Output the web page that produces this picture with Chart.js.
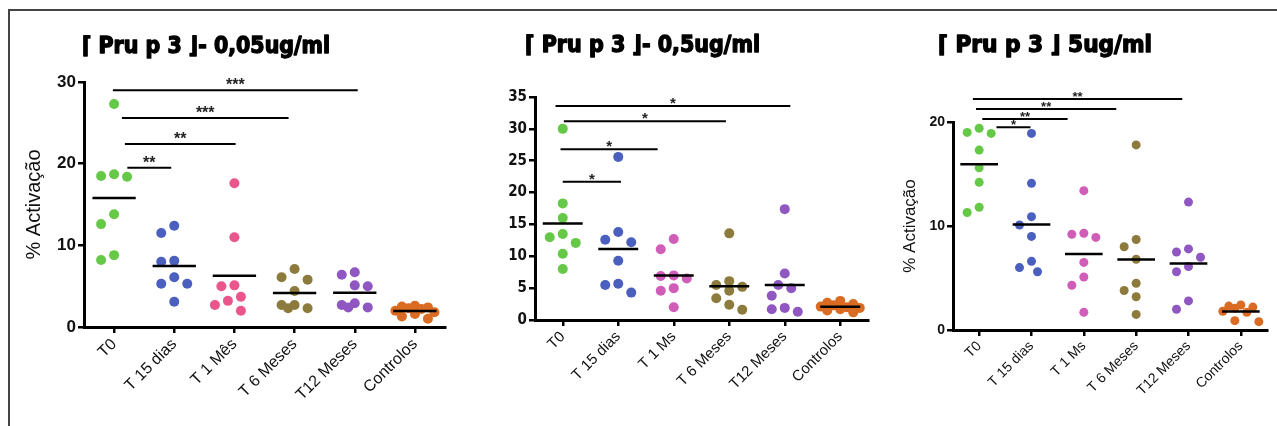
<!DOCTYPE html>
<html>
<head>
<meta charset="utf-8">
<script src="https://cdn.jsdelivr.net/npm/chart.js@4.4.0/dist/chart.umd.min.js"></script>
<style>
  html, body { margin: 0; padding: 0; background: #fff; }
  #page { position: relative; width: 1277px; height: 426px; overflow: hidden; background: #fff; }
  #frame { position: absolute; left: 8px; top: 9px; width: 1300px; height: 500px;
           border-left: 2px solid #444; border-top: 2px solid #444; }
  canvas { position: absolute; top: 0; }
</style>
</head>
<body>
<div id="page">
  <div id="frame"></div>
  <canvas id="c1" width="450" height="426" style="left:10px"></canvas>
  <canvas id="c2" width="420" height="426" style="left:460px"></canvas>
  <canvas id="c3" width="397" height="426" style="left:880px"></canvas>
</div>
<script>
// Categories (panel 1 keeps the accent, panels 2 and 3 print "T 1 Ms")
const labels1 = ['T0', 'T 15 dias', 'T 1 Mês', 'T 6 Meses', 'T12 Meses', 'Controlos'];
const labels23 = ['T0', 'T 15 dias', 'T 1 Ms', 'T 6 Meses', 'T12 Meses', 'Controlos'];

// Panel 1: [Pru p 3] 0,05ug/ml  (% activação)
const p1T0 = [27.3, 18.7, 18.5, 18.4, 13.8, 12.6, 8.8, 8.2];
const p1T15 = [12.4, 11.5, 8.1, 8.0, 6.1, 5.3, 5.3, 3.1];
const p1T1 = [17.6, 11.0, 5.1, 5.0, 3.7, 3.2, 2.7, 2.0];
const p1T6 = [7.1, 6.1, 5.8, 4.4, 2.7, 2.7, 2.3, 2.3];
const p1T12 = [6.7, 6.4, 5.1, 5.0, 2.9, 2.7, 2.4, 2.4];
const p1Ctrl = [2.6, 2.5, 2.4, 2.3, 2.2, 2.0, 1.8, 1.6, 1.3, 1.0];
const p1Ticks = [0, 10, 20, 30];
const p1SigFrom = [-0.02, 0.13, 0.18, 0.22];
const p1SigTo = [4.05, 2.9, 2.02, 0.95];
const p1SigY = [29.0, 25.6, 22.4, 19.5];
const p1SigText = ['***', '***', '**', '**'];

// Panel 2: [Pru p 3] 0,5ug/ml
const p2T0 = [30.0, 18.3, 16.0, 13.5, 13.0, 12.1, 10.4, 8.0];
const p2T15 = [25.6, 13.8, 12.6, 12.2, 9.3, 5.7, 5.5, 4.3];
const p2T1 = [12.7, 11.1, 7.0, 6.9, 6.5, 5.0, 4.6, 2.0];
const p2T6 = [13.6, 6.1, 5.5, 5.2, 4.6, 3.4, 2.4, 1.6];
const p2T12 = [17.4, 7.3, 5.5, 5.0, 3.8, 1.9, 1.7, 1.3];
const p2Ctrl = [3.0, 2.7, 2.5, 2.3, 2.1, 2.0, 1.9, 1.7, 1.5, 1.2];
const p2Ticks = [0, 5, 10, 15, 20, 25, 30, 35];
const p2SigFrom = [-0.13, 0.02, -0.04, 0];
const p2SigTo = [4.1, 2.94, 1.71, 1.05];
const p2SigY = [33.6, 31.2, 26.8, 21.7];
const p2SigText = ['*', '*', '*', '*'];

// Panel 3: [Pru p 3] 5ug/ml
const p3T0 = [19.4, 19.0, 18.9, 17.3, 15.6, 14.2, 11.8, 11.3];
const p3T15 = [18.9, 14.1, 10.9, 10.1, 9.0, 6.6, 6.0, 5.6];
const p3T1 = [13.4, 9.3, 9.2, 8.9, 6.5, 5.1, 4.3, 1.7];
const p3T6 = [17.8, 8.7, 8.0, 6.8, 4.5, 3.8, 3.2, 1.5];
const p3T12 = [12.3, 7.8, 7.5, 7.0, 6.1, 5.6, 2.8, 2.0];
const p3Ctrl = [2.4, 2.3, 2.2, 2.1, 1.8, 1.7, 0.9, 0.8];
const p3Ticks = [0, 10, 20];
const p3SigFrom = [-0.12, -0.06, 0.06, 0.33];
const p3SigTo = [3.88, 2.62, 1.69, 0.98];
const p3SigY = [22.2, 21.25, 20.3, 19.5];
const p3SigText = ['**', '**', '**', '*'];

const colors1 = ['#66c847', '#4b5fbf', '#ea568c', '#8c7b3c', '#9057c2', '#d96b22'];
const colors23 = ['#66c847', '#4b5fbf', '#d05db8', '#8c7b3c', '#9057c2', '#d96b22'];

Chart.defaults.font.family = "'Liberation Sans', Arial, sans-serif";
Chart.defaults.color = '#111';

function mean(a) {
    return a.reduce((s, v) => s + v, 0) / a.length;
}

function makePanel(id, cfg) {
    // spread overlapping dots sideways, and draw means, brackets and title
    const extras = {
        id: 'extras',
        afterUpdate(chart) {
            const xs = chart.scales.x;
            const step = cfg.radius + 1.5;
            const gap = cfg.radius * 2 + 2.5;
            chart.data.datasets.forEach((ds, i) => {
                const placed = [];
                const base = xs.getPixelForValue(i);
                chart.getDatasetMeta(i).data.forEach(el => {
                    let best = base, bestD = -1;
                    for (let k = 0; k < 7; k++) {
                        const off = k === 0 ? 0 : (k % 2 ? -1 : 1) * Math.ceil(k / 2) * step;
                        const x = base + off;
                        const d = placed.reduce((m, p) => Math.min(m, Math.hypot(p.x - x, p.y - el.y)), 1e9);
                        if (d >= gap) { best = x; break; }
                        if (d > bestD + 0.5) { bestD = d; best = x; }
                    }
                    el.x = best;
                    placed.push({ x: best, y: el.y });
                });
            });
        },
        afterDatasetsDraw(chart) {
            const ctx = chart.ctx;
            const xs = chart.scales.x;
            const ys = chart.scales.y;
            ctx.save();
            ctx.strokeStyle = '#000';
            ctx.fillStyle = '#222';

            // mean lines
            ctx.lineWidth = 2.5;
            cfg.groups.forEach((vals, i) => {
                const y = ys.getPixelForValue(mean(vals));
                ctx.beginPath();
                ctx.moveTo(xs.getPixelForValue(i - 0.36), y);
                ctx.lineTo(xs.getPixelForValue(i + 0.36), y);
                ctx.stroke();
            });

            // significance lines
            ctx.lineWidth = 2;
            ctx.font = cfg.starFont;
            ctx.textAlign = 'center';
            ctx.textBaseline = 'alphabetic';
            cfg.sigY.forEach((v, k) => {
                const y = ys.getPixelForValue(v);
                const x0 = xs.getPixelForValue(cfg.sigFrom[k]);
                const x1 = xs.getPixelForValue(cfg.sigTo[k]);
                ctx.beginPath();
                ctx.moveTo(x0, y);
                ctx.lineTo(x1, y);
                ctx.stroke();
                ctx.fillText(cfg.sigText[k], (x0 + x1) / 2, y + cfg.starShift);
            });

            // panel title, squeezed to the printed width and thickened
            ctx.font = "bold 23px 'DejaVu Sans Condensed', 'DejaVu Sans', sans-serif";
            ctx.textAlign = 'left';
            const w = ctx.measureText(cfg.title).width;
            ctx.translate(cfg.titleX, cfg.titleY);
            ctx.scale(cfg.titleW / w, 1);
            ctx.fillStyle = '#000';
            ctx.strokeStyle = '#000';
            ctx.lineWidth = 1.3;
            ctx.lineJoin = 'round';
            ctx.fillText(cfg.title, 0, 0);
            ctx.strokeText(cfg.title, 0, 0);
            ctx.restore();
        }
    };

    const datasets = cfg.groups.map((vals, i) => ({
        data: vals.map(v => ({ x: i, y: v })),
        backgroundColor: cfg.colors[i],
        borderWidth: 0,
        pointRadius: cfg.radius,
        clip: false
    }));

    const axisGrid = {
        display: true,
        drawOnChartArea: false,
        drawTicks: true,
        tickLength: 6,
        color: '#000',
        tickColor: '#000',
        lineWidth: 2.5,
        tickWidth: 2.5
    };

    return new Chart(document.getElementById(id), {
        type: 'scatter',
        data: { datasets: datasets },
        options: {
            responsive: false,
            animation: false,
            events: [],
            layout: { padding: { top: cfg.top, right: cfg.right, bottom: 0, left: cfg.left } },
            plugins: {
                legend: { display: false },
                tooltip: { enabled: false }
            },
            scales: {
                x: {
                    type: 'linear',
                    min: -0.5,
                    max: cfg.labels.length - 0.5,
                    afterBuildTicks: s => { s.ticks = cfg.labels.map((l, i) => ({ value: i })); },
                    afterFit: s => { s.height = cfg.xHeight; },
                    ticks: {
                        callback: v => cfg.labels[v],
                        autoSkip: false,
                        minRotation: 45,
                        maxRotation: 45,
                        padding: 2,
                        color: '#111',
                        font: { size: cfg.xFont }
                    },
                    grid: axisGrid,
                    border: { display: true, color: '#000', width: 3 }
                },
                y: {
                    min: 0,
                    max: cfg.ticks[cfg.ticks.length - 1],
                    afterBuildTicks: s => { s.ticks = cfg.ticks.map(v => ({ value: v })); },
                    afterFit: s => { s.width = cfg.yWidth; },
                    ticks: { padding: 2, color: '#111', font: cfg.yTickFont },
                    grid: axisGrid,
                    border: { display: true, color: '#000', width: 3 },
                    title: {
                        display: !!cfg.yTitle,
                        text: cfg.yTitle,
                        color: '#111',
                        font: { size: cfg.yTitleSize },
                        padding: { top: 4, bottom: 4 }
                    }
                }
            }
        },
        plugins: [extras]
    });
}

makePanel('c1', {
    labels: labels1,
    groups: [p1T0, p1T15, p1T1, p1T6, p1T12, p1Ctrl],
    colors: colors1,
    ticks: p1Ticks,
    sigFrom: p1SigFrom, sigTo: p1SigTo, sigY: p1SigY, sigText: p1SigText,
    title: '⌈ Pru p 3 ⌋- 0,05ug/ml', titleX: 72, titleY: 53, titleW: 248,
    yTitle: '% Activação', yTitleSize: 20,
    yTickFont: { size: 17, weight: 'bold' },
    xFont: 16,
    starFont: "bold 16px 'Liberation Sans', Arial, sans-serif", starShift: 0,
    radius: 5,
    top: 82, right: 15, left: 8, yWidth: 66, xHeight: 99
});

makePanel('c2', {
    labels: labels23,
    groups: [p2T0, p2T15, p2T1, p2T6, p2T12, p2Ctrl],
    colors: colors23,
    ticks: p2Ticks,
    sigFrom: p2SigFrom, sigTo: p2SigTo, sigY: p2SigY, sigText: p2SigText,
    title: '⌈ Pru p 3 ⌋- 0,5ug/ml', titleX: 65, titleY: 52, titleW: 235,
    yTitle: '', yTitleSize: 18,
    yTickFont: { family: "'Liberation Sans Narrow', 'DejaVu Sans Condensed', sans-serif", size: 15, weight: 'bold' },
    xFont: 15,
    starFont: "bold 15px 'Liberation Sans', Arial, sans-serif", starShift: 2,
    radius: 5,
    top: 97, right: 12, left: 0, yWidth: 75, xHeight: 106
});

makePanel('c3', {
    labels: labels23,
    groups: [p3T0, p3T15, p3T1, p3T6, p3T12, p3Ctrl],
    colors: colors23,
    ticks: p3Ticks,
    sigFrom: p3SigFrom, sigTo: p3SigTo, sigY: p3SigY, sigText: p3SigText,
    title: '⌈ Pru p 3 ⌋ 5ug/ml', titleX: 58, titleY: 52, titleW: 214,
    yTitle: '% Activação', yTitleSize: 17,
    yTickFont: { size: 14, weight: 'bold' },
    xFont: 14,
    starFont: "bold 13px 'Liberation Sans', Arial, sans-serif", starShift: 2,
    radius: 4.5,
    top: 122, right: 10, left: 16, yWidth: 57, xHeight: 96
});
</script>
</body>
</html>
